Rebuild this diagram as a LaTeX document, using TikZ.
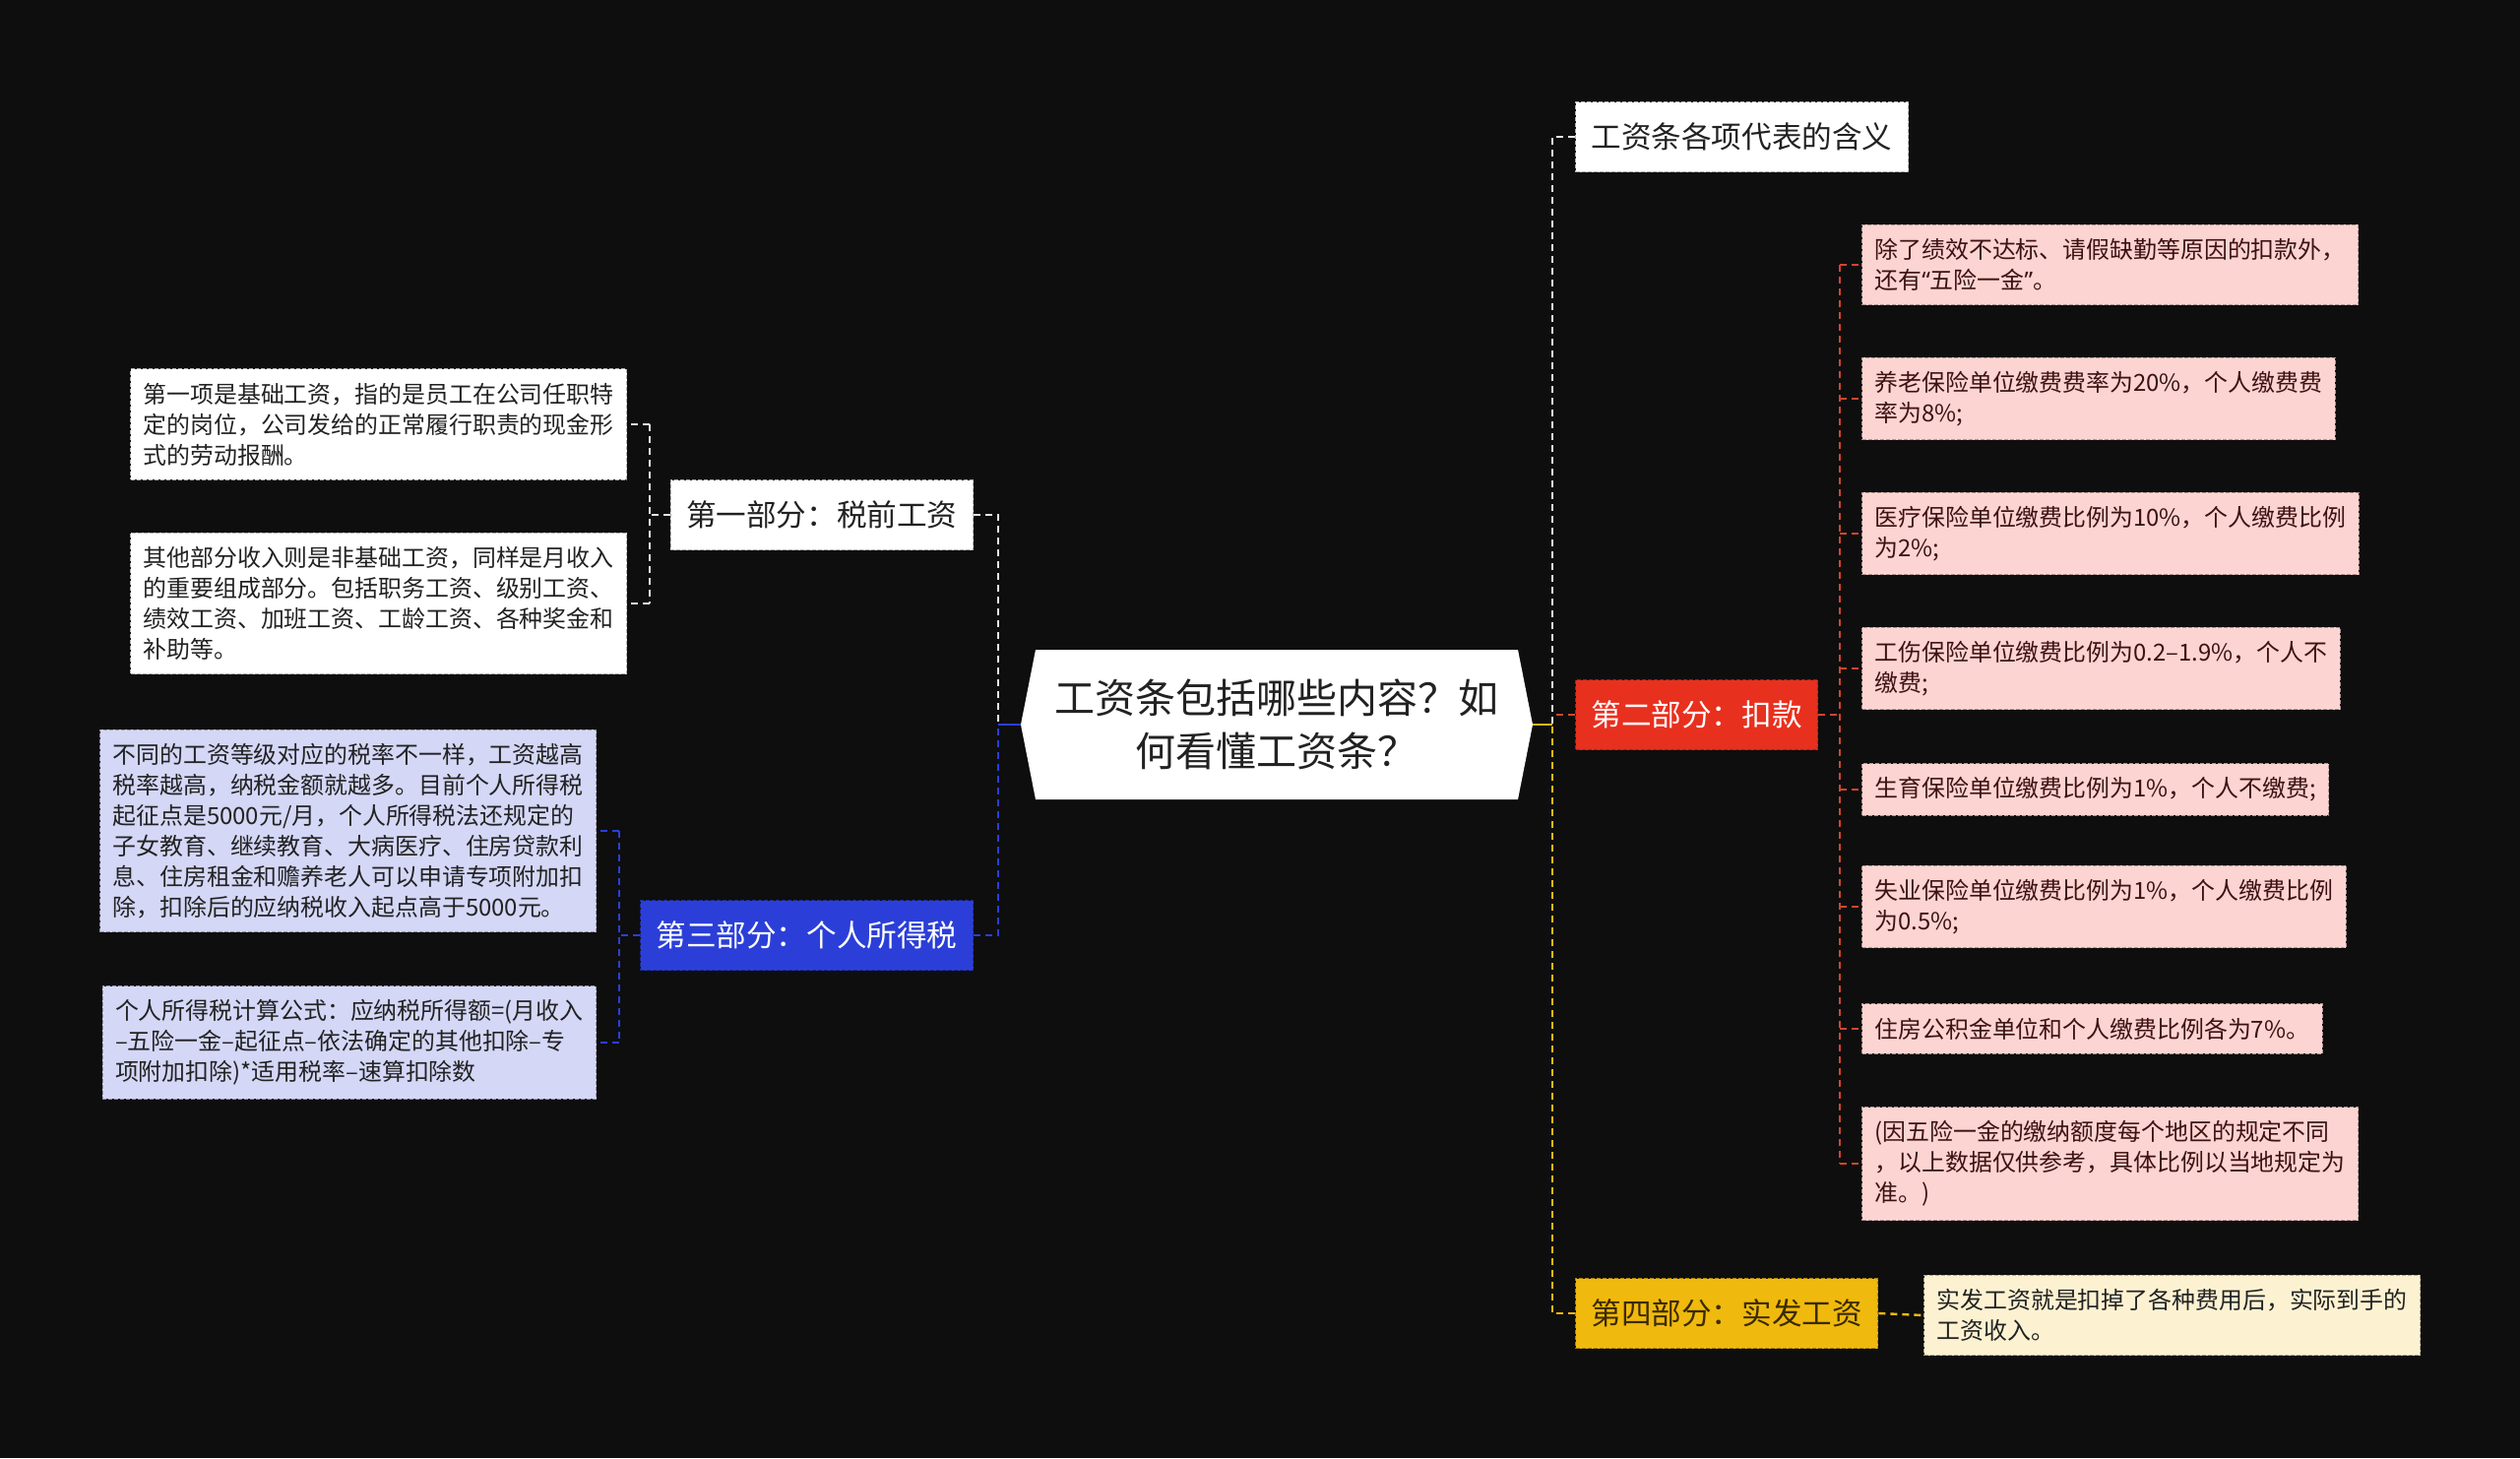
\documentclass[tikz,border=0pt]{standalone}
\usepackage{fontspec}
\setmainfont{Noto Sans CJK SC}
\newfontfamily\latinfont{Noto Sans}

\definecolor{bgc}{HTML}{0E0E0E}
\definecolor{txtc}{HTML}{222222}
\definecolor{greyl}{HTML}{E6E6E6}
\definecolor{bluec}{HTML}{2B3FD8}
\definecolor{lavc}{HTML}{D4D7F6}
\definecolor{redc}{HTML}{E8301F}
\definecolor{redl}{HTML}{D2452F}
\definecolor{pinkc}{HTML}{FCD4D1}
\definecolor{pinkt}{HTML}{3E1212}
\definecolor{yelc}{HTML}{F0B90D}
\definecolor{yelt}{HTML}{3A2A00}
\definecolor{creamc}{HTML}{FCF2D2}

\newcommand\leaffont{\fontsize{23.9}{31}\selectfont}
\newcommand\partfont{\fontsize{30.6}{36}\selectfont}
\newcommand\rootfont{\fontsize{41}{54}\selectfont}

\begin{document}
\begin{tikzpicture}[x=1pt,y=-1pt,
  conn/.style={line width=2.4pt, dash pattern=on 7pt off 5pt},
  box/.style={inner xsep=13pt, inner ysep=14pt, align=left, font=\leaffont,
    line width=1pt, dash pattern=on 4pt off 2pt},
  part/.style={inner xsep=16pt, minimum height=71pt, font=\partfont,
    line width=1pt, dash pattern=on 4pt off 2pt}]

  %% background
  \fill[bgc] (0,0) rectangle (2560,1481);
  \useasboundingbox (0,0) rectangle (2560,1481);

  %% root
  \fill[white] (1037,736) -- (1052,660) -- (1542,660) -- (1557,736)
    -- (1542,812) -- (1052,812) -- cycle;
  \node[font=\rootfont, align=center, text=txtc, minimum width=520,
    minimum height=152] (root) at (1297,736)
    {工资条包括哪些内容？如\\何看懂工资条？};

  %% left parts
  \node[part, anchor=east, fill=white, draw=white!70!black, text=txtc]
    (p1) at (989,523) {第一部分：税前工资};
  \node[part, anchor=east, fill=bluec, draw=bluec!70!black, text=white]
    (p3) at (989,950) {第三部分：个人所得税};

  \node[box, anchor=east, fill=white, draw=white!70!black, text=txtc]
    (l1) at (637,431) {第一项是基础工资，指的是员工在公司任职特\\定的岗位，公司发给的正常履行职责的现金形\\式的劳动报酬。};
  \node[box, anchor=east, fill=white, draw=white!70!black, text=txtc]
    (l2) at (637,613) {其他部分收入则是非基础工资，同样是月收入\\的重要组成部分。包括职务工资、级别工资、\\绩效工资、加班工资、工龄工资、各种奖金和\\补助等。};
  \node[box, anchor=east, fill=lavc, draw=lavc!70!black, text=txtc]
    (l3) at (606,844) {不同的工资等级对应的税率不一样，工资越高\\税率越高，纳税金额就越多。目前个人所得税\\起征点是5000元/月，个人所得税法还规定的\\子女教育、继续教育、大病医疗、住房贷款利\\息、住房租金和赡养老人可以申请专项附加扣\\除，扣除后的应纳税收入起点高于5000元。};
  \node[box, anchor=east, fill=lavc, draw=lavc!70!black, text=txtc]
    (l4) at (606,1059) {个人所得税计算公式：应纳税所得额=(月收入\\–五险一金–起征点–依法确定的其他扣除–专\\项附加扣除)*适用税率–速算扣除数};

  %% right parts
  \node[part, anchor=west, fill=white, draw=white!70!black, text=txtc]
    (p0) at (1600,139) {工资条各项代表的含义};
  \node[part, anchor=west, fill=redc, draw=redc!70!black, text=white]
    (p2) at (1600,726) {第二部分：扣款};
  \node[part, anchor=west, fill=yelc, draw=yelc!70!black, text=yelt]
    (p4) at (1600,1334) {第四部分：实发工资};

  \node[box, anchor=west, fill=pinkc, draw=pinkc!70!black, text=pinkt]
    (r1) at (1891,269) {除了绩效不达标、请假缺勤等原因的扣款外，\\还有{\latinfont“}五险一金{\latinfont”}。};
  \node[box, anchor=west, fill=pinkc, draw=pinkc!70!black, text=pinkt]
    (r2) at (1891,405) {养老保险单位缴费费率为20\%，个人缴费费\\率为8\%;};
  \node[box, anchor=west, fill=pinkc, draw=pinkc!70!black, text=pinkt]
    (r3) at (1891,542) {医疗保险单位缴费比例为10\%，个人缴费比例\\为2\%;};
  \node[box, anchor=west, fill=pinkc, draw=pinkc!70!black, text=pinkt]
    (r4) at (1891,679) {工伤保险单位缴费比例为0.2–1.9\%，个人不\\缴费;};
  \node[box, anchor=west, fill=pinkc, draw=pinkc!70!black, text=pinkt]
    (r5) at (1891,802) {生育保险单位缴费比例为1\%，个人不缴费;};
  \node[box, anchor=west, fill=pinkc, draw=pinkc!70!black, text=pinkt]
    (r6) at (1891,921) {失业保险单位缴费比例为1\%，个人缴费比例\\为0.5\%;};
  \node[box, anchor=west, fill=pinkc, draw=pinkc!70!black, text=pinkt]
    (r7) at (1891,1045) {住房公积金单位和个人缴费比例各为7\%。};
  \node[box, anchor=west, fill=pinkc, draw=pinkc!70!black, text=pinkt]
    (r8) at (1891,1182) {(因五险一金的缴纳额度每个地区的规定不同\\，以上数据仅供参考，具体比例以当地规定为\\准。)};
  \node[box, anchor=west, fill=creamc, draw=creamc!70!black, text=txtc]
    (r9) at (1954,1336) {实发工资就是扣掉了各种费用后，实际到手的\\工资收入。};

  %% trunks
  \coordinate (lt) at (1014,736);
  \coordinate (rt) at (1577,736);
  \draw[conn, greyl] (p1.east) -| (lt);
  \draw[conn, bluec] (p3.east) -| (lt);
  \draw[bluec, line width=2.4pt] (lt) -- (root.west);
  \draw[yelc, line width=2.4pt] (root.east) -- (rt);
  \draw[conn, greyl] (p0.west) -| (rt);
  \draw[conn, yelc] (p4.west) -| (rt);
  \draw[conn, redl] (p2.west) -- (p2.west -| rt);

  %% brackets
  \coordinate (b1) at (660,523);
  \draw[conn, greyl] (p1.west) -- (b1);
  \draw[conn, greyl] (b1 |- l1.east) -- (b1 |- l2.east);
  \foreach \n in {l1,l2} \draw[conn, greyl] (b1 |- \n.east) -- (\n.east);

  \coordinate (b3) at (629,950);
  \draw[conn, bluec] (p3.west) -- (b3);
  \draw[conn, bluec] (b3 |- l3.east) -- (b3 |- l4.east);
  \foreach \n in {l3,l4} \draw[conn, bluec] (b3 |- \n.east) -- (\n.east);

  \coordinate (b2) at (1869,726);
  \draw[conn, redl] (p2.east) -- (b2);
  \draw[conn, redl] (b2 |- r1.west) -- (b2 |- r8.west);
  \foreach \n in {r1,r2,r3,r4,r5,r6,r7,r8} \draw[conn, redl] (b2 |- \n.west) -- (\n.west);

  \draw[conn, yelc] (p4.east) -- (r9.west);

\end{tikzpicture}
\end{document}
